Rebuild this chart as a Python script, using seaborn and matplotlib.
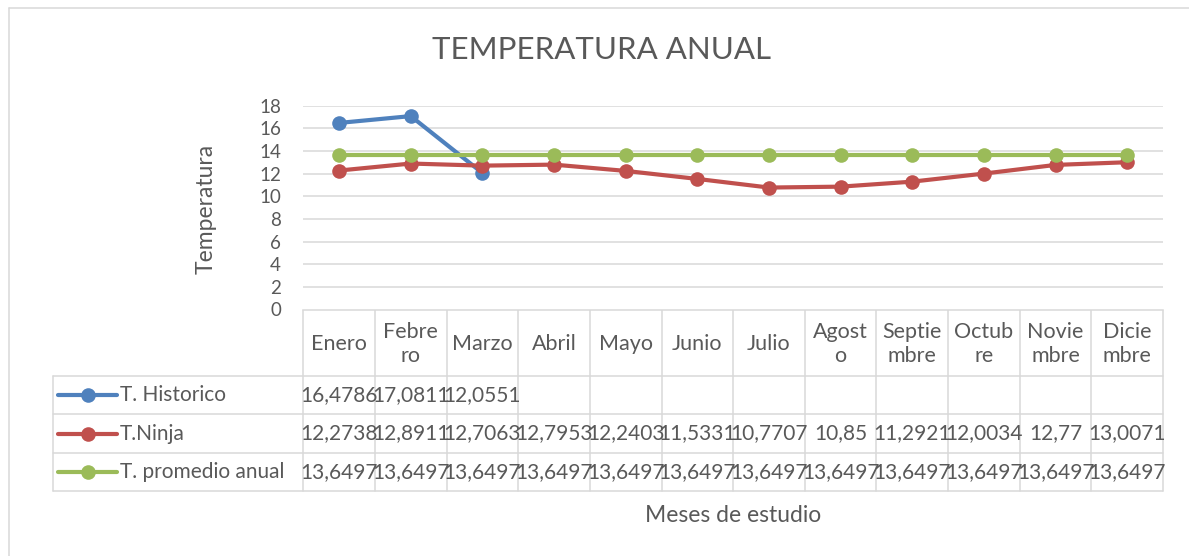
import matplotlib.pyplot as plt
import numpy as np
import pandas as pd
import seaborn as sns

# Data (data table values)
meses = ["Enero", "Febre\nro", "Marzo", "Abril", "Mayo", "Junio", "Julio",
         "Agost\no", "Septie\nmbre", "Octub\nre", "Novie\nmbre", "Dicie\nmbre"]
t_historico = [16.4786, 17.0811, 12.0551] + [np.nan] * 9
t_ninja = [12.2738, 12.8911, 12.7063, 12.7953, 12.2403, 11.5331,
           10.7707, 10.85, 11.2921, 12.0034, 12.77, 13.0071]
t_promedio = [13.6497] * 12
series = ["T. Historico", "T.Ninja", "T. promedio anual"]
colores = ["#4F81BD", "#C0504D", "#9BBB59"]
yticks = list(range(0, 19, 2))

W, H = 1189, 556
GRIS = "#595959"
LINEA = "#D9D9D9"

sns.set_theme(style="white")
plt.rcParams["font.family"] = ["Lato", "DejaVu Sans"]

df = pd.DataFrame({
    "idx": list(range(12)) * 3,
    "temp": t_historico + t_ninja + t_promedio,
    "serie": [s for s in series for _ in range(12)],
})

fig = plt.figure(figsize=(W / 100, H / 100), dpi=100)

# plot area in pixels
left_px, right_px = 303.3, 1163.0
top_px, bot_px = 105.7, 309.5
ax = fig.add_axes([left_px / W, 1 - bot_px / H,
                   (right_px - left_px) / W, (bot_px - top_px) / H])

sns.lineplot(data=df, x="idx", y="temp", hue="serie", hue_order=series,
             palette=colores, marker="o", markersize=10.5, linewidth=3,
             markeredgewidth=0, errorbar=None, legend=False, sort=False, ax=ax)

ax.set_xlim(-0.5, len(meses) - 0.5)
ax.set_ylim(0, 18)
ax.set_yticks(yticks)
ax.set_xticks([])
ax.set_xlabel("")
ax.set_ylabel("")
ax.yaxis.grid(True, color=LINEA, linewidth=1.1)
ax.set_axisbelow(True)
for s in ax.spines.values():
    s.set_visible(False)
ax.tick_params(axis="y", length=0, pad=16, labelsize=13.5, labelcolor=GRIS)
for lbl in ax.get_yticklabels():
    lbl.set_fontfamily(["Lato", "DejaVu Sans"])

# overlay in pixel space for title, labels and data table
tab = fig.add_axes([0, 0, 1, 1], zorder=-1)
tab.set_xlim(0, W)
tab.set_ylim(H, 0)
tab.axis("off")

# chart area border (top and left visible)
tab.plot([8.5, W], [7.5, 7.5], color=LINEA, lw=1.1)
tab.plot([8.5, 8.5], [7.5, H], color=LINEA, lw=1.1)

tab.text(601, 50, "TEMPERATURA ANUAL", ha="center", va="center",
         fontsize=22.5, color=GRIS, fontweight="normal")
tab.text(206, 209, "Temperatura", ha="center", va="center", rotation=90,
         fontsize=16.5, color=GRIS)
tab.text(733, 515, "Meses de estudio", ha="center", va="center",
         fontsize=16.5, color=GRIS)

# data table
n = len(meses)
col_w = (right_px - left_px) / n
rows = [310, 376, 414, 453, 491]
leg_left = 53
lw_t = 1.1
tab.plot([left_px, right_px], [rows[0], rows[0]], color=LINEA, lw=lw_t)
for y in rows[1:]:
    tab.plot([leg_left, right_px], [y, y], color=LINEA, lw=lw_t)
tab.plot([leg_left, leg_left], [rows[1], rows[-1]], color=LINEA, lw=lw_t)
for i in range(n + 1):
    x = left_px + i * col_w
    tab.plot([x, x], [rows[0], rows[-1]], color=LINEA, lw=lw_t)

for i, m in enumerate(meses):
    cx = left_px + (i + 0.5) * col_w
    tab.text(cx, (rows[0] + rows[1]) / 2 + 1, m, ha="center", va="center",
             fontsize=15.5, color=GRIS, linespacing=1.2)


def fmt(v):
    s = f"{v:.4f}".rstrip("0").rstrip(".")
    return s.replace(".", ",")


valores = [t_historico, t_ninja, t_promedio]
for r, (nombre, col, vals) in enumerate(zip(series, colores, valores)):
    cy = (rows[r + 1] + rows[r + 2]) / 2
    tab.plot([58, 117], [cy, cy], color=col, lw=3, solid_capstyle="round")
    tab.plot([88], [cy], marker="o", color=col, markersize=10.5, mew=0)
    tab.text(120, cy, nombre, ha="left", va="center", fontsize=15, color=GRIS)
    for i, v in enumerate(vals):
        if np.isnan(v):
            continue
        cx = left_px + (i + 0.5) * col_w
        tab.text(cx, cy, fmt(v), ha="center", va="center", fontsize=15,
                 color=GRIS)

fig.savefig("out.png", dpi=100)
